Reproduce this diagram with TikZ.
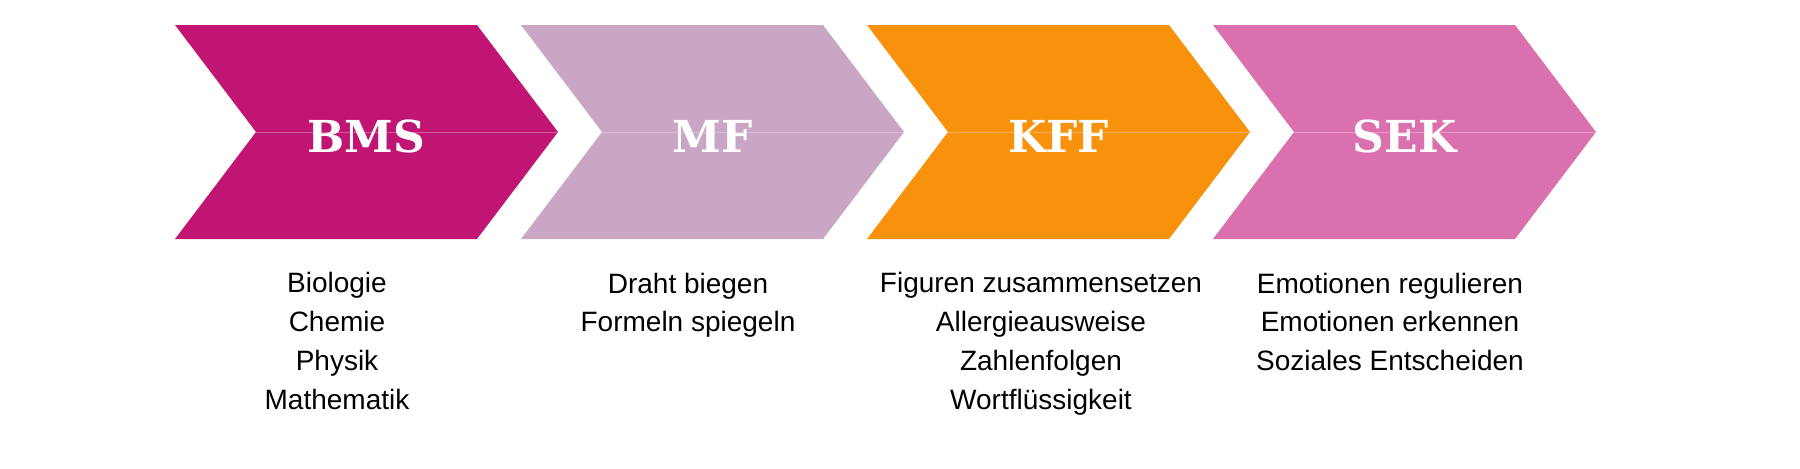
\documentclass[tikz,border=0pt]{standalone}
\usepackage{fontspec}
\setmainfont{Liberation Sans}
\newfontfamily\slabfont{DejaVu Serif}
\definecolor{bmscol}{RGB}{192,21,114}
\definecolor{mfcol}{RGB}{202,166,197}
\definecolor{kffcol}{RGB}{248,146,13}
\definecolor{sekcol}{RGB}{218,112,173}
\tikzstyle{seam}=[white, opacity=0.3, line width=0.4pt]
\tikzstyle{title}=[text=white, font=\slabfont\bfseries\fontsize{22}{26}\selectfont, anchor=base, inner sep=0pt]
\tikzstyle{items}=[align=center, font=\fontsize{14}{19.35}\selectfont, anchor=base, inner sep=0pt]

\begin{document}
\begin{tikzpicture}[x=0.5pt, y=-0.5pt]
    \useasboundingbox (0,0) rectangle (1800,468);
    \foreach \x/\col/\name in {175/bmscol/BMS, 521/mfcol/MF, 867/kffcol/KFF, 1213/sekcol/SEK} {
        \fill [\col] (\x,25) -- ++(302,0) -- ++(81,107) -- ++(-81,107) -- ++(-302,0) -- ++(81,-107) -- cycle;
        \draw [seam] (\x+81,132) -- (\x+383,132);
        \node [title] (\name) at (\x+191.5,152) {\name};
    }
    % base anchor sits on the last line
    \node [items] (bmslist) at (337,409) {Biologie\\Chemie\\Physik\\Mathematik};
    \node [items] (mflist) at (688,331.7) {Draht biegen\\Formeln spiegeln};
    \node [items] (kfflist) at (1041,409) {Figuren zusammensetzen\\Allergieausweise\\Zahlenfolgen\\Wortflüssigkeit};
    \node [items] (seklist) at (1390,370.4) {Emotionen regulieren\\Emotionen erkennen\\Soziales Entscheiden};
\end{tikzpicture}
\end{document}
